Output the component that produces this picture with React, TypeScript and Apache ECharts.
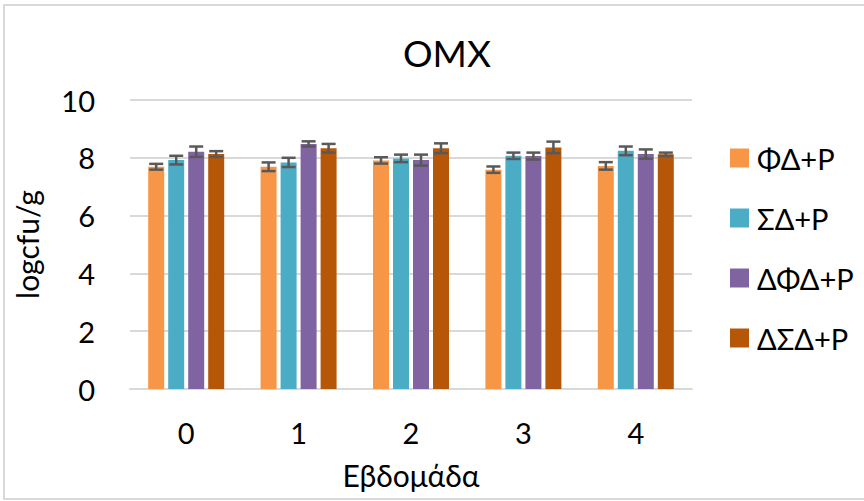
import React, { useEffect, useRef } from "react";
import * as echarts from "echarts";

const categories = ["0", "1", "2", "3", "4"];
const seriesNames = ["ΦΔ+P", "ΣΔ+P", "ΔΦΔ+P", "ΔΣΔ+P"];
const colors = ["#F79646", "#4BACC6", "#8064A2", "#B65708"];
const fdP = [7.69, 7.69, 7.91, 7.59, 7.72];
const sdP = [7.92, 7.84, 7.98, 8.07, 8.24];
const dfdP = [8.21, 8.48, 7.92, 8.06, 8.13];
const dsdP = [8.13, 8.33, 8.33, 8.36, 8.12];
const fdErr = [0.1, 0.15, 0.11, 0.11, 0.13];
const sdErr = [0.15, 0.16, 0.13, 0.11, 0.15];
const dfdErr = [0.18, 0.09, 0.19, 0.12, 0.16];
const dsdErr = [0.1, 0.15, 0.17, 0.2, 0.06];
const yTicks = [0, 2, 4, 6, 8, 10];

const values = [fdP, sdP, dfdP, dsdP];
const errors = [fdErr, sdErr, dfdErr, dsdErr];

const FONT = "Lato";

export default function App() {
  const ref = useRef<HTMLDivElement>(null);
  useEffect(() => {
    if (!ref.current) return;
    const chart = echarts.init(ref.current, undefined, { renderer: "svg" });
    const barWidth = 16;
    const gap = 4;
    const offsets = [-1.5, -0.5, 0.5, 1.5].map((k) => k * (barWidth + gap));

    const barSeries = seriesNames.map((name, i) => ({
      name,
      type: "bar",
      data: values[i],
      barWidth,
      barGap: "25%",
      itemStyle: { color: colors[i] },
      z: 2,
    }));

    const errSeries = seriesNames.map((name, i) => ({
      name: name + "_err",
      type: "custom",
      z: 5,
      silent: true,
      data: values[i].map((v, j) => [j, v - errors[i][j], v + errors[i][j]]),
      renderItem: (params: any, api: any) => {
        const x = api.value(0);
        const lo = api.coord([x, api.value(1)]);
        const hi = api.coord([x, api.value(2)]);
        const cx = lo[0] + offsets[i];
        const hw = 7;
        const style = { stroke: "#595959", lineWidth: 2.5 };
        return {
          type: "group",
          children: [
            { type: "line", shape: { x1: cx, y1: lo[1], x2: cx, y2: hi[1] }, style },
            { type: "line", shape: { x1: cx - hw, y1: lo[1], x2: cx + hw, y2: lo[1] }, style },
            { type: "line", shape: { x1: cx - hw, y1: hi[1], x2: cx + hw, y2: hi[1] }, style },
          ],
        };
      },
    }));

    chart.setOption({
      animation: false,
      textStyle: { fontFamily: FONT },
      title: {
        text: "OMX",
        left: 442,
        textAlign: "center",
        top: 29,
        textStyle: { fontFamily: FONT, fontSize: 37, fontWeight: "normal", color: "#000" },
      },
      graphic: [
        {
          type: "rect",
          shape: { x: 4, y: 5, width: 880, height: 494 },
          style: { fill: "none", stroke: "#d9d9d9", lineWidth: 2 },
          silent: true,
        },
      ],
      legend: {
        orient: "vertical",
        left: 725,
        top: 138,
        itemWidth: 19,
        itemHeight: 19,
        itemGap: 30,
        data: seriesNames,
        icon: "rect",
        textStyle: { fontFamily: FONT, fontSize: 29, color: "#000", lineHeight: 30, padding: [0, 0, 0, 3] },
      },
      grid: { left: 130, right: 172, top: 100, bottom: 112 },
      xAxis: {
        type: "category",
        data: categories,
        name: "Εβδομάδα",
        nameLocation: "middle",
        nameGap: 71,
        nameTextStyle: { fontFamily: FONT, fontSize: 30, color: "#000" },
        axisLine: { lineStyle: { color: "#d9d9d9", width: 2 } },
        axisTick: { show: false },
        axisLabel: { fontFamily: FONT, fontSize: 29, color: "#000", margin: 29 },
      },
      yAxis: {
        type: "value",
        min: yTicks[0],
        max: yTicks[yTicks.length - 1],
        interval: 2,
        name: "logcfu/g",
        nameLocation: "middle",
        nameGap: 88,
        nameTextStyle: { fontFamily: FONT, fontSize: 30, color: "#000" },
        axisLabel: { fontFamily: FONT, fontSize: 29, color: "#000", margin: 35 },
        splitLine: { lineStyle: { color: "#d9d9d9", width: 2 } },
      },
      series: [...barSeries, ...errSeries],
    });
    return () => chart.dispose();
  }, []);
  return (
    <div style={{ position: "fixed", left: 0, top: 0, width: 864, height: 501, background: "#fff" }}>
      <div ref={ref} style={{ width: 864, height: 501 }} />
    </div>
  );
}
